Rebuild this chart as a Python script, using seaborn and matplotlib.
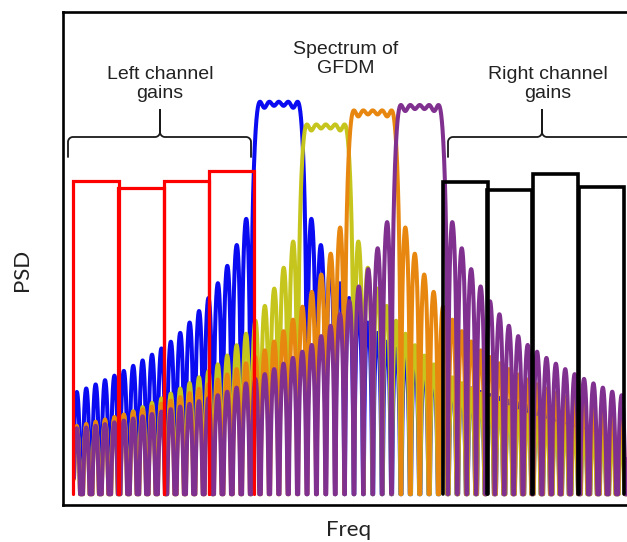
import numpy as np
import pandas as pd
import matplotlib
matplotlib.use("Agg")
import matplotlib.pyplot as plt
import seaborn as sns

# GFDM sub-bands: centre (subcarrier-spacing units) and plateau level (dB)
band_names = ["b1", "b2", "b3", "b4"]
band_centers = [21.8, 26.8, 31.8, 36.8]
band_levels = [0.0, -2.1, -0.8, -0.3]
band_colors = ["#0b0bf2", "#c5c51e", "#e8870f", "#80308f"]
n_sub = 5

# out-of-band lobe envelope (distance from centre, dB under plateau)
lobe_dist = [3.4, 11.2, 21.0, 31.0, 36.0]
lobe_db = [-10.6, -22.0, -26.7, -29.1, -29.9]

# channel gains (dB)
left_centers = [2.34, 7.13, 11.95, 16.77]
left_gains = [-7.3, -8.0, -7.3, -6.4]
right_centers = [41.65, 46.4, 51.25, 56.15]
right_gains = [-7.4, -8.2, -6.7, -7.9]
gain_width = 4.8

floor_db = -36.3
freq = np.linspace(0, 60, 24001)


def band_psd(center, level):
    d = freq - center
    offs = np.arange(n_sub) - (n_sub - 1) / 2
    # in-band: power sum of the subcarriers
    p_in = (np.sinc(d[:, None] - offs[None, :]) ** 2).sum(axis=1)
    env = 10 ** (np.interp(np.log10(np.abs(d) + 1e-9), np.log10(lobe_dist), lobe_db) / 10)
    p = np.where(np.abs(d) < 3, p_in, env * np.sin(np.pi * d) ** 2)
    db = 10 * np.log10(p + 1e-14) + level
    return np.maximum(db, floor_db)


frames = []
for name, c, lv in zip(band_names, band_centers, band_levels):
    frames.append(pd.DataFrame({"freq": freq, "psd": band_psd(c, lv), "band": name}))
df = pd.concat(frames, ignore_index=True)

sns.set_theme(style="white")
plt.rcParams["font.family"] = ["Liberation Sans", "DejaVu Sans"]

W, H = 627, 542
fig = plt.figure(figsize=(W / 100, H / 100), dpi=100)
ax = fig.add_axes([63 / W, 1 - 505 / H, (632 - 63) / W, (505 - 12) / H])

sns.lineplot(data=df, x="freq", y="psd", hue="band", palette=band_colors,
             hue_order=band_names, estimator=None, sort=False, legend=False,
             linewidth=2.9, ax=ax)


def gain_boxes(centers, gains, color, lw):
    for c, g in zip(centers, gains):
        l, r = c - gain_width / 2, c + gain_width / 2
        ax.plot([l, l, r, r], [floor_db, g, g, floor_db], color=color, lw=lw,
                solid_joinstyle="miter", zorder=5)


gain_boxes(left_centers, left_gains, "#ff0000", 2.3)
gain_boxes(right_centers, right_gains, "black", 2.6)

ax.set_xlim(-1.17, 59.4)
ax.set_ylim(-37.3, 8.3)
ax.set_xticks([])
ax.set_yticks([])
ax.set_xlabel("")
ax.set_ylabel("")
for sp in ax.spines.values():
    sp.set_color("black")
    sp.set_linewidth(1.9)


def px(x, y):
    return x / W, 1 - y / H


def arc(cx, cy, r, a0, a1):
    a = np.radians(np.linspace(a0, a1, 12))
    return list(cx + r * np.cos(a)), list(cy + r * np.sin(a))


def brace(x0, x1, xm, y=137, ytip=110, yhook=157, r=5):
    xs, ys = [x0], [yhook]
    for (cx, cy, a0, a1) in [(x0 + r, y + r, 180, 270), (xm - r, y - r, 90, 0)]:
        ax_, ay_ = arc(cx, cy, r, a0, a1)
        xs += ax_
        ys += ay_
    xs += [xm, xm]
    ys += [ytip, y - r]
    for (cx, cy, a0, a1) in [(xm + r, y - r, 180, 90), (x1 - r, y + r, 270, 360)]:
        ax_, ay_ = arc(cx, cy, r, a0, a1)
        xs += ax_
        ys += ay_
    xs.append(x1)
    ys.append(yhook)
    fx = [x / W for x in xs]
    fy = [1 - v / H for v in ys]
    fig.add_artist(plt.Line2D(fx, fy, color="#1a1a1a", lw=1.3))


brace(68, 251, 160)
brace(448, 720, 542)

txt = dict(ha="center", va="center", fontsize=14, color="#222222", linespacing=1.15)
fig.text(*px(160, 84), "Left channel\ngains", **txt)
fig.text(*px(346, 59), "Spectrum of\nGFDM", **txt)
fig.text(*px(548, 84), "Right channel\ngains", **txt)

lab = dict(ha="center", va="center", fontsize=16, color="#222222", family=["Lato", "DejaVu Sans"])
fig.text(*px(349, 530), "Freq", **lab)
fig.text(*px(22, 270), "PSD", rotation=90, **lab)

fig.savefig("out.png", dpi=100)
